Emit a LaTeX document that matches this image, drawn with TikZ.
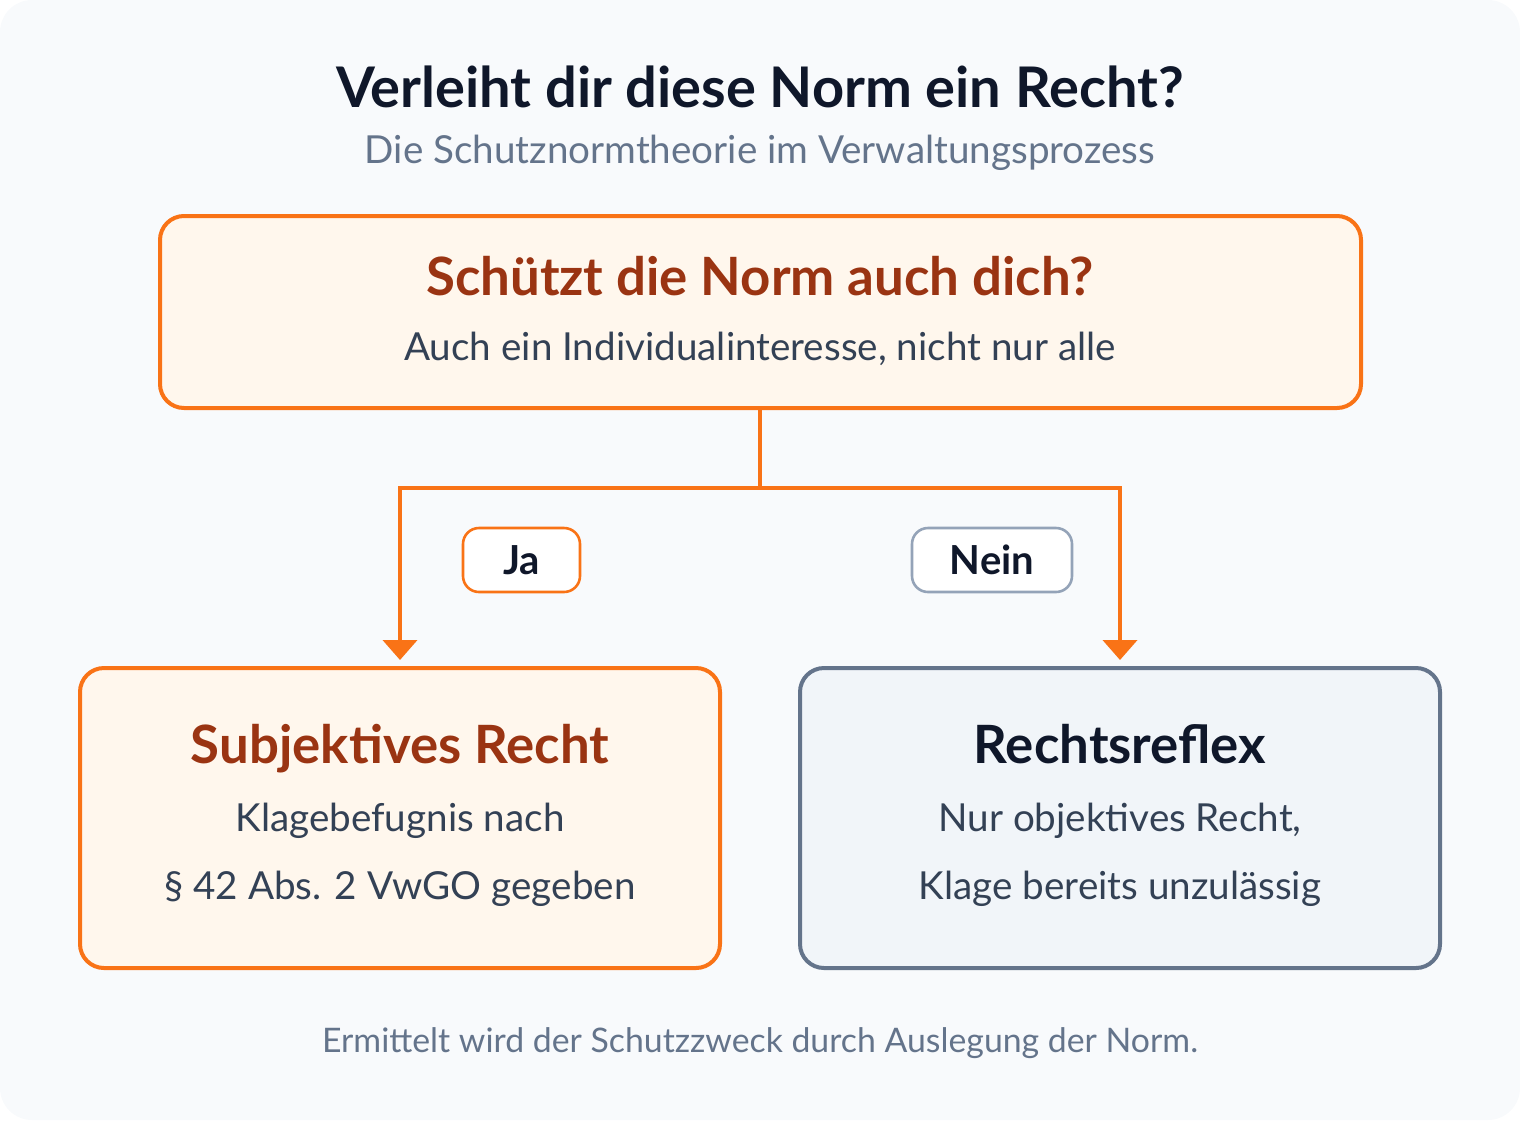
\documentclass[tikz,border=0pt]{standalone}
\usepackage{fontspec}
\setmainfont{Lato}
\usetikzlibrary{arrows.meta}
\definecolor{bgc}{HTML}{F8FAFC}
\definecolor{orangec}{HTML}{F97316}
\definecolor{orangefill}{HTML}{FFF7ED}
\definecolor{slatefill}{HTML}{F1F5F9}
\definecolor{slatestroke}{HTML}{64748B}
\definecolor{darkc}{HTML}{0F172A}
\definecolor{brownc}{HTML}{9A3412}
\definecolor{textc}{HTML}{334155}
\definecolor{mutedc}{HTML}{64748B}
\definecolor{pillgray}{HTML}{94A3B8}
\tikzset{
  px/.style={x=0.5pt,y=-0.5pt},
  boxo/.style={draw=orangec,fill=orangefill,line width=2pt,rounded corners=12pt},
  boxs/.style={draw=slatestroke,fill=slatefill,line width=2pt,rounded corners=12pt},
  pill/.style={fill=white,line width=1.3pt,rounded corners=8pt},
  conn/.style={draw=orangec,line width=2pt},
  arr/.style={conn,-{Triangle[width=17pt,length=10pt]}},
  txt/.style={anchor=base,inner sep=0pt},
  headf/.style={font=\fontsize{26.4}{30}\selectfont\bfseries},
  bodyf/.style={font=\fontsize{19.3}{23}\selectfont},
}
\begin{document}
\begin{tikzpicture}[px]
\useasboundingbox (0,0) rectangle (1520,1120);
\fill[bgc,rounded corners=16pt] (0,0) rectangle (1520,1120);
% title
\node[txt,text=darkc,font=\fontsize{28}{32}\selectfont\bfseries] (title) at (760,107) {Verleiht dir diese Norm ein Recht?};
\node[txt,text=mutedc,bodyf] (sub) at (760,163) {Die Schutznormtheorie im Verwaltungsprozess};
% top box
\draw[boxo] (160,216) rectangle (1361,408);
\coordinate (topb) at (760,408);
\node[txt,text=brownc,headf] (q) at (760,295) {Schützt die Norm auch dich?};
\node[txt,text=textc,bodyf] (qs) at (760,360) {Auch ein Individualinteresse, nicht nur alle};
% bottom boxes
\draw[boxo] (80,668) rectangle (720,968);
\draw[boxs] (800,668) rectangle (1440,968);
\coordinate (lt) at (400,660);
\coordinate (rt) at (1120,660);
\coordinate (mid) at (760,488);
\node[txt,text=brownc,headf] (lh) at (400,763) {Subjektives Recht};
\node[txt,text=textc,bodyf] (l1) at (400,831) {Klagebefugnis nach};
\node[txt,text=textc,bodyf] (l2) at (400,899) {§ 42 Abs. 2 VwGO gegeben};
\node[txt,text=darkc,headf] (rh) at (1120,763) {Rechtsreflex};
\node[txt,text=textc,bodyf] (r1) at (1120,831) {Nur objektives Recht,};
\node[txt,text=textc,bodyf] (r2) at (1120,899) {Klage bereits unzulässig};
% connectors
\draw[conn] (topb) -- (mid);
\draw[arr] (mid) -| (lt);
\draw[arr] (mid) -| (rt);
% pills
\draw[pill,draw=orangec] (463,528) rectangle (580,592);
\node[txt,text=darkc,font=\fontsize{20}{24}\selectfont\bfseries] (ja) at (521.5,574) {Ja};
\draw[pill,draw=pillgray] (912,528) rectangle (1072,592);
\node[txt,text=darkc,font=\fontsize{20}{24}\selectfont\bfseries] (nein) at (992,574) {Nein};
% footer
\node[txt,text=mutedc,font=\fontsize{16.9}{21}\selectfont] (foot) at (760,1052) {Ermittelt wird der Schutzzweck durch Auslegung der Norm.};
\end{tikzpicture}
\end{document}
